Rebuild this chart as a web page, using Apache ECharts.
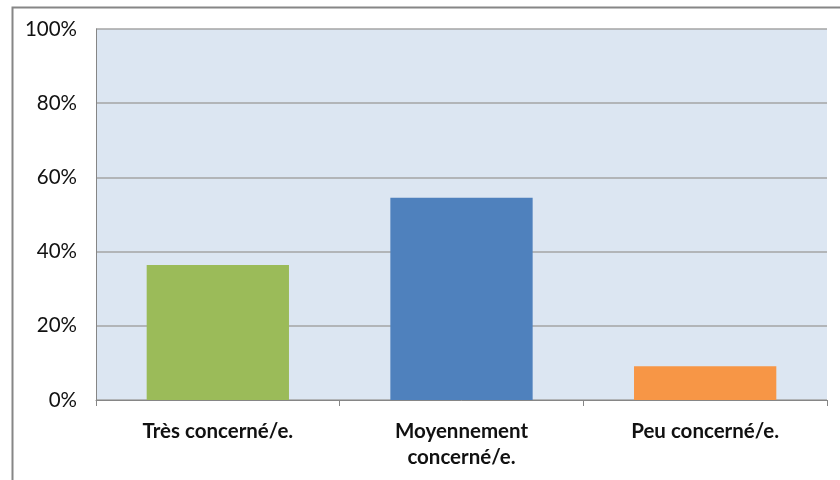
<!DOCTYPE html>
<html>
<head>
<meta charset="utf-8">
<script src="https://cdn.jsdelivr.net/npm/echarts@6/dist/echarts.min.js"></script>
<style>html,body{margin:0;padding:0;background:#fff}#c{width:840px;height:480px}</style>
</head>
<body>
<div id="c"></div>
<script>
const categories = ["Très concerné/e.", "Moyennement\nconcerné/e.", "Peu concerné/e."];
const values = [0.364, 0.545, 0.091];
const colors = ["#9bbb59", "#4f81bd", "#f79646"];
const yTicks = [0, 0.2, 0.4, 0.6, 0.8, 1.0];

const chart = echarts.init(document.getElementById('c'));
chart.setOption({
  animation: false,
  backgroundColor: '#ffffff',
  graphic: [{
    type: 'rect', left: 10, top: 5,
    shape: { width: 840, height: 480 },
    style: { fill: 'none', stroke: '#868686', lineWidth: 2 },
    z: 100
  }],
  grid: {
    left: 96, right: 13, top: 29, bottom: 80,
    show: true, backgroundColor: '#dce6f2', borderWidth: 0
  },
  xAxis: {
    type: 'category',
    data: categories,
    axisLine: { show: true, lineStyle: { color: '#868686', width: 1 } },
    axisTick: { show: true, length: 6, interval: 0, alignWithLabel: false, lineStyle: { color: '#868686' } },
    axisLabel: {
      interval: 0, margin: 18,
      fontFamily: 'Lato, "Open Sans", sans-serif', fontWeight: 'bold', fontSize: 20.5,
      color: '#111111', lineHeight: 26
    }
  },
  yAxis: {
    type: 'value', min: yTicks[0], max: yTicks[yTicks.length - 1], interval: 0.2,
    axisLine: { show: true, lineStyle: { color: '#868686' } },
    axisTick: { show: false },
    splitLine: { show: true, lineStyle: { color: '#a5a5a5', width: 1.5 } },
    axisLabel: {
      margin: 19,
      formatter: v => Math.round(v * 100) + '%',
      fontFamily: 'Lato, "Open Sans", sans-serif', fontSize: 20.5, color: '#111111'
    }
  },
  series: [{
    type: 'bar',
    data: values.map((v, i) => ({ value: v, itemStyle: { color: colors[i] } })),
    barWidth: '58.4%'
  }]
});
</script>
</body>
</html>
